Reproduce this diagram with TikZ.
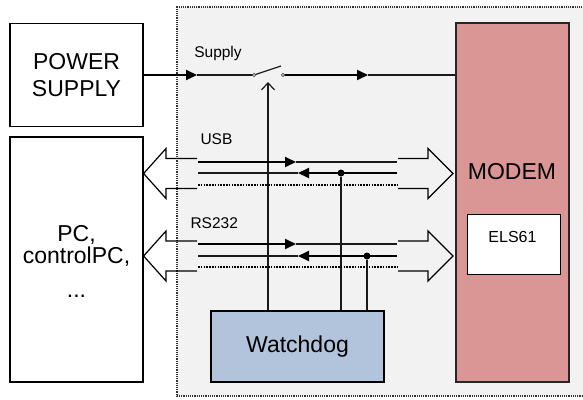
\documentclass[tikz,border=0pt]{standalone}
\usepackage{fontspec}
\setmainfont{Liberation Sans}
\usetikzlibrary{arrows.meta}
\definecolor{bggray}{HTML}{F2F2F2}
\definecolor{modemred}{HTML}{D99694}
\definecolor{wdblue}{HTML}{B1C4DC}
\newcommand\Bfont{\fontsize{23}{27}\selectfont}
\newcommand\Sfont{\fontsize{15.5}{18}\selectfont}
\begin{document}
\begin{tikzpicture}[x=1pt,y=-1pt,
  blk/.style={draw=black, line width=1.2pt, inner sep=0pt},
  sig/.style={line width=2pt, -{Triangle[length=11pt,width=10pt]}},
  wire/.style={line width=1.2pt, draw=black!90},
  dwire/.style={line width=1.2pt, dash pattern=on 1.5pt off 1.3pt},
  hollow/.style={line width=1.2pt, line join=miter},
  dotn/.style={circle, fill=black, inner sep=0pt, minimum size=7pt},
  pinn/.style={circle, draw=black!70, fill=gray!50, inner sep=0pt, minimum size=3.5pt, line width=0.6pt}]
\useasboundingbox (0,0) rectangle (583,399);
% background region
\fill[bggray] (177,7) rectangle (600,396);
\draw[black!80, line width=1.2pt, dash pattern=on 1.2pt off 1pt] (600,7) -- (177,7) -- (177,396) -- (600,396);

% blocks
\node[blk, minimum width=133pt, minimum height=103pt, fill=white, align=center, font=\Bfont] (ps) at (76.5,75) {POWER\\SUPPLY};
\node[blk, minimum width=133pt, minimum height=245pt, fill=white] (pc) at (76.5,259.5) {};
\node[font=\Bfont, anchor=base] (pct1) at (76.5,241) {PC,};
\node[font=\Bfont, anchor=base] (pct2) at (76.5,263) {controlPC,};
\node[font=\Bfont, anchor=base] (pct3) at (76.5,297) {...};

\node[blk, fill=modemred, draw=black!85, minimum width=113pt, minimum height=359pt] (modem) at (512.5,202.5) {};
\node[font=\Bfont, anchor=base] (modemtxt) at (512,179) {MODEM};
\node[blk, fill=white, line width=1pt, minimum width=93pt, minimum height=60pt] (els) at (513.5,244) {};
\node[font=\fontsize{16}{19}\selectfont, anchor=base] (elstxt) at (512.5,242) {ELS61};

\node[blk, fill=wdblue, minimum width=173pt, minimum height=71pt, font=\Bfont] (wd) at (297.5,346.5) {Watchdog};

% supply line with switch
\coordinate (sw1) at (254,75);
\coordinate (sw2) at (283,75);
\coordinate (blade) at (281,66);
\coordinate (a1) at (197,75);
\coordinate (a2) at (368,75);
\draw[sig] (ps.east) -- (a1);
\draw[wire] (a1) -- (sw1);
\draw[wire] (sw1) -- (blade);
\draw[sig] (sw2) -- (a2);
\draw[wire] (a2) -- (modem.west |- a2);
\node[pinn] at (sw1) {};
\node[pinn] at (sw2) {};
\node[font=\Sfont, anchor=base] (supplytxt) at (218,57) {Supply};

% watchdog control of switch
\coordinate (swc) at (268,82);
\draw[wire, -{Straight Barb[length=7pt,width=13pt]}] (swc |- wd.north) -- (swc);

% USB
\node[font=\Sfont, anchor=base west] (usbtxt) at (197,144) {USB};
\draw[sig] (198,162) -- (296,162);
\draw[wire] (296,162) -- (397,162);
\draw[sig] (397,173) -- (298,173);
\draw[wire] (298,173) -- (198,173);
\draw[dwire] (198,185) -- (397,185);
\node[dotn] (ud) at (341,173) {};
\draw[wire] (ud) -- (ud |- wd.north);

% RS232
\node[font=\Sfont, anchor=base west] (rstxt) at (187,228) {RS232};
\draw[sig] (198,244) -- (296,244);
\draw[wire] (296,244) -- (397,244);
\draw[sig] (397,256) -- (298,256);
\draw[wire] (298,256) -- (198,256);
\draw[dwire] (198,267) -- (397,267);
\node[dotn] (rd) at (367,256) {};
\draw[wire] (rd) -- (rd |- wd.north);

% hollow bus arrows
\draw[hollow] (197,158.5) -- (166,158.5) -- (166,148.5) -- (pc.east |- 0,173.5) -- (166,198.5) -- (166,188.5) -- (197,188.5);
\draw[hollow] (398,158.5) -- (428,158.5) -- (428,148.5) -- (453,173.5) -- (428,198.5) -- (428,188.5) -- (398,188.5);
\draw[hollow] (197,241) -- (166,241) -- (166,231) -- (pc.east |- 0,256) -- (166,281) -- (166,271) -- (197,271);
\draw[hollow] (398,241) -- (428,241) -- (428,231) -- (453,256) -- (428,281) -- (428,271) -- (398,271);
\end{tikzpicture}
\end{document}
